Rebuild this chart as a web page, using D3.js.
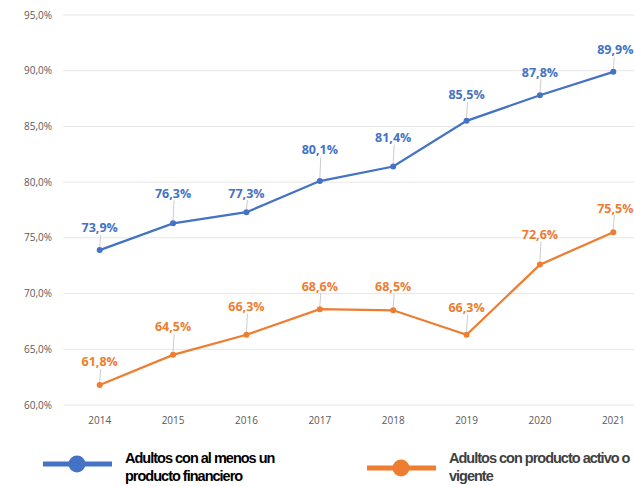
<!DOCTYPE html>
<html>
<head>
<meta charset="utf-8">
<script src="https://cdn.jsdelivr.net/npm/d3@7"></script>
<style>
  body { margin: 0; background: #fff; }
  svg { display: block; }
</style>
</head>
<body>
<div id="chart"></div>
<script>
const years = ['2014', '2015', '2016', '2017', '2018', '2019', '2020', '2021'];
const conProducto = [73.9, 76.3, 77.3, 80.1, 81.4, 85.5, 87.8, 89.9];
const activoVigente = [61.8, 64.5, 66.3, 68.6, 68.5, 66.3, 72.6, 75.5];
const yTicks = [60, 65, 70, 75, 80, 85, 90, 95];
const seriesNames = ['Adultos con al menos un|producto financiero', 'Adultos con producto activo o|vigente'];

// how far above each point its label sits (layout only)
const liftBlue = [22, 30, 19, 31, 29, 26, 23, 22];
const liftOrange = [23, 28, 28, 23, 24, 27, 30, 24];

const W = 634, H = 486;
const fmt = v => v.toFixed(1).replace('.', ',') + '%';

const svg = d3.select('#chart').append('svg').attr('width', W).attr('height', H);

const x = d3.scaleBand().domain(years).range([63, 650]);
const y = d3.scaleLinear().domain([60, 95]).range([405, 15]);
const cx = d => x(d) + x.bandwidth() / 2;

// grid
svg.append('g').selectAll('line').data(yTicks).join('line')
    .attr('x1', 63).attr('x2', W)
    .attr('y1', d => y(d)).attr('y2', d => y(d))
    .attr('stroke', '#e6e6e6').attr('stroke-width', 1);

svg.append('g').selectAll('text').data(yTicks).join('text')
    .attr('x', 52).attr('y', d => y(d)).attr('dy', '0.35em')
    .attr('text-anchor', 'end')
    .attr('font-family', 'Open Sans, sans-serif').attr('font-size', 10)
    .attr('fill', '#595959')
    .text(d => d.toFixed(1).replace('.', ',') + '%');

svg.append('g').selectAll('text').data(years).join('text')
    .attr('x', d => cx(d)).attr('y', 424)
    .attr('text-anchor', 'middle')
    .attr('font-family', 'Open Sans, sans-serif').attr('font-size', 10)
    .attr('fill', '#595959')
    .text(d => d);

function drawSeries(vals, lifts, color) {
    const pts = vals.map((v, i) => ({ year: years[i], v, lift: lifts[i] }));
    const line = d3.line().x(d => cx(d.year)).y(d => y(d.v));
    const g = svg.append('g');
    g.append('path').datum(pts).attr('d', line)
        .attr('fill', 'none').attr('stroke', color).attr('stroke-width', 2.25);
    g.selectAll('line.leader').data(pts).join('line').attr('class', 'leader')
        .attr('x1', d => cx(d.year)).attr('x2', d => cx(d.year) + 1)
        .attr('y1', d => y(d.v) - 3).attr('y2', d => y(d.v) - d.lift + 7)
        .attr('stroke', '#bfbfbf').attr('stroke-width', 0.8);
    g.selectAll('circle').data(pts).join('circle')
        .attr('cx', d => cx(d.year)).attr('cy', d => y(d.v)).attr('r', 3)
        .attr('fill', color);
    g.selectAll('text').data(pts).join('text')
        .attr('x', (d, i) => i === 7 ? cx(d.year) + 2 : cx(d.year))
        .attr('y', d => y(d.v) - d.lift).attr('dy', '0.35em')
        .attr('text-anchor', 'middle')
        .attr('font-family', 'Open Sans, sans-serif').attr('font-size', 12.5)
        .attr('font-weight', 'bold').attr('fill', color)
        .text(d => fmt(d.v));
}

drawSeries(conProducto, liftBlue, '#4472C4');
drawSeries(activoVigente, liftOrange, '#ED7D31');

// legend
const legend = [
    { name: seriesNames[0], color: '#4472C4', x0: 43, tx: 125, ly: 464, ty: 458, text: '#000' },
    { name: seriesNames[1], color: '#ED7D31', x0: 367, tx: 449, ly: 468, ty: 458, text: '#404040' }
];
legend.forEach(l => {
    svg.append('line').attr('x1', l.x0).attr('x2', l.x0 + 69)
        .attr('y1', l.ly).attr('y2', l.ly)
        .attr('stroke', l.color).attr('stroke-width', 5);
    svg.append('circle').attr('cx', l.x0 + 34).attr('cy', l.ly).attr('r', 8.5).attr('fill', l.color);
    const t = svg.append('text').attr('x', l.tx).attr('y', l.ty + 5)
        .attr('font-family', 'Liberation Sans, Arial, sans-serif').attr('font-size', 14.5)
        .attr('font-weight', 'bold').attr('letter-spacing', -1)
        .attr('fill', l.text);
    l.name.split('|').forEach((s, i) => {
        t.append('tspan').attr('x', l.tx).attr('dy', i ? 18 : 0).text(s);
    });
});
</script>
</body>
</html>
